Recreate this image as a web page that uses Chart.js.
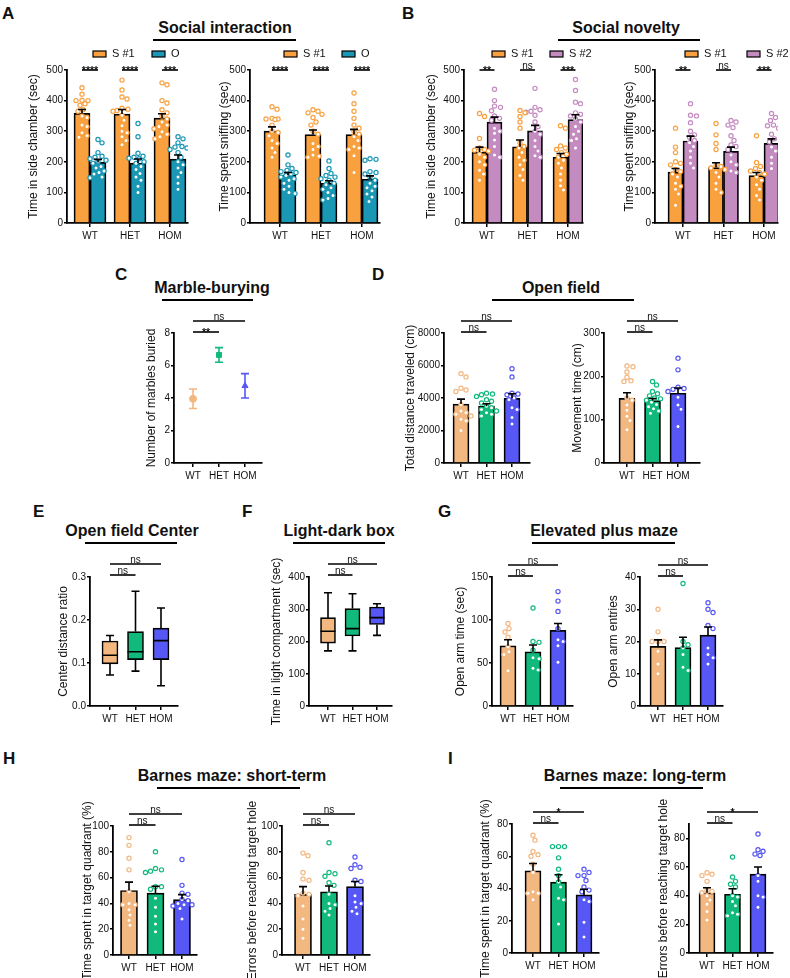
<!DOCTYPE html>
<html>
<head>
<meta charset="utf-8">
<script src="https://cdn.jsdelivr.net/npm/chart.js@4.4.1/dist/chart.umd.min.js"></script>
<style>
html, body { margin: 0; padding: 0; background: #fff; overflow: hidden; }
body { width: 790px; height: 978px; position: relative; font-family: "Liberation Sans", Arial, sans-serif; color: #111; }
.lbl { position: absolute; font-weight: bold; font-size: 17px; line-height: 17px; }
.ttl { position: absolute; font-weight: bold; font-size: 16px; line-height: 16px; transform: translateX(-50%); white-space: nowrap; }
.rule { position: absolute; height: 2px; background: #000; }
canvas { position: absolute; }
</style>
</head>
<body>
<div class="lbl" style="left:2px;top:5px">A</div>
<div class="lbl" style="left:402px;top:5px">B</div>
<div class="lbl" style="left:115px;top:266px">C</div>
<div class="lbl" style="left:372px;top:266px">D</div>
<div class="lbl" style="left:33px;top:503px">E</div>
<div class="lbl" style="left:242px;top:503px">F</div>
<div class="lbl" style="left:438px;top:503px">G</div>
<div class="lbl" style="left:3px;top:750px">H</div>
<div class="lbl" style="left:448px;top:750px">I</div>

<div class="ttl" style="left:225px;top:20px">Social interaction</div>
<div class="ttl" style="left:626px;top:20px">Social novelty</div>
<div class="ttl" style="left:212px;top:280px">Marble-burying</div>
<div class="ttl" style="left:561px;top:280px">Open field</div>
<div class="ttl" style="left:132px;top:523px">Open field Center</div>
<div class="ttl" style="left:339px;top:523px">Light-dark box</div>
<div class="ttl" style="left:604px;top:523px">Elevated plus maze</div>
<div class="ttl" style="left:232px;top:768px">Barnes maze: short-term</div>
<div class="ttl" style="left:635px;top:768px">Barnes maze: long-term</div>

<div class="rule" style="left:153px;width:143px;top:39px"></div>
<div class="rule" style="left:558px;width:142px;top:39px"></div>
<div class="rule" style="left:162px;width:91px;top:299px"></div>
<div class="rule" style="left:492px;width:142px;top:299px"></div>
<div class="rule" style="left:85px;width:92px;top:542px"></div>
<div class="rule" style="left:293px;width:92px;top:542px"></div>
<div class="rule" style="left:532px;width:143px;top:542px"></div>
<div class="rule" style="left:157px;width:143px;top:787px"></div>
<div class="rule" style="left:560px;width:143px;top:787px"></div>

<script>
const groups = ['WT', 'HET', 'HOM'];

// A: social interaction
const siChamberS1Mean = [358, 356, 343];
const siChamberS1Sem = [13, 15, 14];
const siChamberS1Pts = [
    [442, 421, 401, 400, 400, 390, 385, 370, 365, 350, 345, 320, 315, 295, 285, 280],
    [467, 435, 412, 405, 375, 372, 368, 365, 352, 336, 318, 300, 295, 282, 270, 256],
    [458, 452, 400, 392, 370, 360, 350, 340, 330, 320, 315, 308, 298, 290, 282, 275]
];
const siChamberOMean = [198, 196, 209];
const siChamberOSem = [10, 13, 13];
const siChamberOPts = [
    [273, 262, 230, 218, 215, 210, 205, 200, 195, 185, 180, 170, 165, 160, 150, 148],
    [325, 282, 228, 218, 215, 212, 210, 200, 195, 185, 175, 162, 150, 140, 120, 100],
    [282, 275, 262, 250, 248, 245, 240, 230, 215, 200, 190, 180, 165, 150, 130, 110]
];
const siSniffS1Mean = [300, 289, 289];
const siSniffS1Sem = [14, 15, 17];
const siSniffS1Pts = [
    [380, 372, 342, 340, 340, 338, 320, 300, 296, 285, 270, 260, 245, 230, 215],
    [370, 365, 360, 355, 345, 330, 320, 300, 290, 260, 250, 240, 222, 218, 215],
    [425, 390, 365, 342, 320, 310, 300, 290, 282, 270, 250, 245, 240, 220, 165]
];
const siSniffOMean = [157, 130, 143];
const siSniffOSem = [8, 8, 11];
const siSniffOPts = [
    [222, 190, 178, 172, 168, 165, 160, 155, 150, 145, 140, 130, 120, 110, 100, 96],
    [203, 178, 162, 155, 150, 145, 140, 130, 125, 115, 110, 100, 90, 80, 75],
    [210, 208, 205, 168, 165, 160, 150, 140, 130, 120, 115, 105, 95, 85, 70]
];

// B: social novelty
const snChamberS1Mean = [232, 249, 215];
const snChamberS1Sem = [16, 22, 12];
const snChamberS1Pts = [
    [358, 348, 276, 245, 240, 238, 235, 225, 215, 200, 190, 172, 160, 140],
    [368, 360, 348, 330, 310, 262, 250, 245, 230, 215, 205, 190, 175, 155, 140],
    [318, 310, 252, 245, 240, 230, 225, 215, 205, 195, 180, 160, 140, 122, 108]
];
const snChamberS2Mean = [330, 301, 338];
const snChamberS2Sem = [16, 18, 16];
const snChamberS2Pts = [
    [437, 400, 382, 378, 367, 350, 342, 336, 310, 300, 293, 271, 250, 222, 215],
    [440, 378, 370, 365, 362, 352, 330, 315, 300, 290, 270, 250, 235, 220, 215],
    [469, 433, 395, 390, 360, 355, 350, 340, 330, 315, 300, 290, 275, 270, 245]
];
const snSniffS1Mean = [166, 181, 155];
const snSniffS1Sem = [12, 16, 10];
const snSniffS1Pts = [
    [310, 248, 230, 200, 195, 190, 175, 168, 160, 150, 130, 120, 110, 95, 58],
    [325, 288, 260, 240, 190, 185, 180, 175, 165, 150, 130, 110, 100],
    [285, 198, 185, 178, 170, 165, 160, 150, 140, 125, 110, 90, 75]
];
const snSniffS2Mean = [268, 234, 260];
const snSniffS2Sem = [16, 14, 15];
const snSniffS2Pts = [
    [390, 352, 350, 328, 300, 288, 280, 270, 262, 250, 235, 215, 195, 180],
    [335, 330, 320, 312, 285, 270, 255, 250, 240, 222, 200, 190, 170, 165],
    [358, 345, 335, 320, 318, 310, 290, 275, 265, 248, 235, 215, 195, 178]
];

// C: marble burying
const marbleMean = [3.95, 6.65, 4.75];
const marbleSem = [0.6, 0.45, 0.75];

// D: open field
const ofDistMean = [3630, 3500, 3980];
const ofDistSem = [300, 150, 280];
const ofDistPts = [
    [5500, 5300, 4600, 4500, 4400, 3600, 3200, 3100, 3000, 2900, 2700, 2600, 2000],
    [4300, 4250, 4200, 4100, 3900, 3800, 3700, 3500, 3400, 3300, 3200, 3100, 3000, 2900],
    [5800, 5300, 4300, 4250, 4200, 4000, 3900, 3400, 3300, 2800, 2400]
];
const ofMoveMean = [149, 144, 161];
const ofMoveSem = [13, 5, 12];
const ofMovePts = [
    [224, 222, 210, 198, 190, 188, 150, 145, 134, 122, 108, 98, 77],
    [188, 180, 165, 160, 155, 150, 148, 145, 140, 135, 130, 125, 120, 115],
    [242, 215, 175, 172, 170, 165, 152, 134, 124, 84]
];

// E: open field center (box: min, q1, median, q3, max)
const centerMin = [0.072, 0.081, 0.047];
const centerQ1 = [0.098, 0.108, 0.108];
const centerMed = [0.118, 0.126, 0.152];
const centerQ3 = [0.151, 0.173, 0.181];
const centerMax = [0.164, 0.267, 0.228];

// F: light-dark box
const lightMin = [171, 171, 219];
const lightQ1 = [195, 217, 253];
const lightMed = [232, 240, 274];
const lightQ3 = [274, 302, 307];
const lightMax = [351, 348, 317];

// G: elevated plus maze
const epmTimeMean = [70, 63, 88];
const epmTimeSem = [7, 8, 8];
const epmTimePts = [
    [96, 90, 86, 80, 69, 63, 60, 41],
    [114, 75, 74, 65, 56, 55, 44, 42],
    [133, 122, 110, 90, 77, 75, 70, 51]
];
const epmEntryMean = [18.5, 18.1, 22];
const epmEntrySem = [2, 3.2, 2.5];
const epmEntryPts = [
    [30, 23, 20, 20, 20, 17, 13, 10],
    [38, 20, 19, 18, 16, 12, 11],
    [32, 30, 29, 25, 24, 18, 16, 15, 13]
];

// H: Barnes maze short-term
const bmsTimeMean = [50, 48, 43];
const bmsTimeSem = [6.5, 5.3, 3.8];
const bmsTimePts = [
    [91, 85, 75, 66, 49, 40, 39, 39, 35, 31, 27, 23],
    [80, 67, 66, 65, 64, 53, 53, 51, 44, 37, 30, 24, 18],
    [74, 54, 48, 47, 43, 42, 40, 39, 39, 38, 36, 28]
];
const bmsErrMean = [47, 49, 53];
const bmsErrSem = [6, 4.5, 4];
const bmsErrPts = [
    [79, 77, 64, 59, 58, 48, 47, 46, 38, 28, 20, 13],
    [87, 64, 63, 61, 56, 54, 47, 40, 39, 36, 34, 31],
    [76, 70, 68, 67, 58, 57, 46, 41, 40, 37, 34, 32]
];

// I: Barnes maze long-term
const bmlTimeMean = [51, 44, 36];
const bmlTimeSem = [4.5, 4.5, 3.5];
const bmlTimePts = [
    [73, 70, 63, 61, 60, 55, 50, 38, 37, 37, 33],
    [66, 66, 66, 59, 52, 48, 44, 41, 34, 33, 18],
    [52, 50, 48, 48, 45, 41, 39, 38, 33, 32, 19, 10]
];
const bmlErrMean = [42, 41, 55];
const bmlErrSem = [3.5, 3.8, 5];
const bmlErrPts = [
    [56, 55, 54, 50, 44, 43, 42, 40, 37, 34, 29, 23],
    [67, 53, 50, 48, 46, 40, 39, 36, 33, 28, 27, 26],
    [83, 72, 71, 69, 68, 54, 50, 40, 39, 32]
];

const COL = { s1: '#F9A03F', o: '#1A97B4', s2: '#C48BC1', wt: '#F3B780', het: '#12B97C', hom: '#5757F5' };
const grpCols = [COL.wt, COL.het, COL.hom];

Chart.defaults.font.family = '"Liberation Sans", Arial, sans-serif';
Chart.defaults.font.size = 10;
Chart.defaults.color = '#111';

const PAD_T = 46, PAD_R = 14, PAD_B = 26;
const TITLE_PX = 12;

// error bars, box whiskers, significance lines, legends
const extrasPlugin = {
    id: 'extras',
    afterDatasetsDraw(chart) {
        const { ctx, chartArea: a, scales: { x, y } } = chart;
        const ex = chart.canvas.extras || {};
        ctx.save();
        chart.data.datasets.forEach((ds, di) => {
            const meta = chart.getDatasetMeta(di);
            if (ds.sem) {
                meta.data.forEach((el, i) => {
                    const m = ds.data[i].y;
                    const top = y.getPixelForValue(m + ds.sem[i]);
                    const bot = ds.both ? y.getPixelForValue(m - ds.sem[i]) : el.y;
                    ctx.strokeStyle = ds.both ? ds.pointBorderColor : '#000';
                    ctx.lineWidth = 1.6;
                    ctx.beginPath();
                    ctx.moveTo(el.x, bot); ctx.lineTo(el.x, top);
                    ctx.moveTo(el.x - 4, top); ctx.lineTo(el.x + 4, top);
                    if (ds.both) { ctx.moveTo(el.x - 4, bot); ctx.lineTo(el.x + 4, bot); }
                    ctx.stroke();
                });
            }
            if (ds.box) {
                meta.data.forEach((el, i) => {
                    const [mn, md, mx] = ds.box[i];
                    const [q1, q3] = ds.data[i].y;
                    const hw = el.width / 2;
                    ctx.strokeStyle = '#000';
                    ctx.lineWidth = 1.6;
                    ctx.beginPath();
                    ctx.moveTo(el.x, y.getPixelForValue(q3)); ctx.lineTo(el.x, y.getPixelForValue(mx));
                    ctx.moveTo(el.x - 4, y.getPixelForValue(mx)); ctx.lineTo(el.x + 4, y.getPixelForValue(mx));
                    ctx.moveTo(el.x, y.getPixelForValue(q1)); ctx.lineTo(el.x, y.getPixelForValue(mn));
                    ctx.moveTo(el.x - 4, y.getPixelForValue(mn)); ctx.lineTo(el.x + 4, y.getPixelForValue(mn));
                    ctx.moveTo(el.x - hw, y.getPixelForValue(md)); ctx.lineTo(el.x + hw, y.getPixelForValue(md));
                    ctx.stroke();
                });
            }
        });
        (ex.sig || []).forEach(sg => {
            const yy = a.top - sg.dy;
            const x1 = x.getPixelForValue(sg.from), x2 = x.getPixelForValue(sg.to);
            ctx.strokeStyle = '#000';
            ctx.lineWidth = 1.6;
            ctx.beginPath();
            ctx.moveTo(x1, yy); ctx.lineTo(x2, yy);
            ctx.stroke();
            ctx.fillStyle = '#111';
            ctx.textAlign = 'center';
            ctx.textBaseline = 'alphabetic';
            const star = sg.text.indexOf('*') >= 0;
            ctx.font = (star ? 'bold 10.5px' : '10px') + ' "Liberation Sans", Arial, sans-serif';
            ctx.fillText(sg.text, (x1 + x2) / 2, star ? yy + 4 : yy - 1.5);
        });
        if (ex.legend) {
            ex.legend.items.forEach(it => {
                const bx = a.left + it.dx, by = a.top + ex.legend.dy;
                ctx.fillStyle = it.color;
                ctx.fillRect(bx, by - 3, 13, 6);
                ctx.strokeStyle = '#000';
                ctx.lineWidth = 1.2;
                ctx.strokeRect(bx, by - 3, 13, 6);
                ctx.fillStyle = '#111';
                ctx.font = '11px "Liberation Sans", Arial, sans-serif';
                ctx.textAlign = 'left';
                ctx.textBaseline = 'middle';
                ctx.fillText(it.label, bx + 19, by);
            });
        }
        ctx.restore();
    }
};
Chart.register(extrasPlugin);

// spreads points of equal value side by side, like a beeswarm
function swarm(vals, yPx, d, half) {
    const placed = [];
    return vals.map(v => {
        const yy = v * yPx;
        let best = 0, bestGap = -Infinity;
        for (let k = 0; k <= 2 * half; k++) {
            const dx = (k % 2 ? 1 : -1) * Math.ceil(k / 2);
            let gap = Infinity;
            placed.forEach(p => { gap = Math.min(gap, Math.hypot(p[0] - dx, p[1] - yy)); });
            if (gap >= d) { best = dx; bestGap = gap; break; }
            if (gap > bestGap) { bestGap = gap; best = dx; }
        }
        placed.push([best, yy]);
        return best;
    });
}

function addCanvas(x, y, w, h) {
    const c = document.createElement('canvas');
    c.width = w; c.height = h;
    c.style.left = x + 'px'; c.style.top = y + 'px';
    c.style.width = w + 'px'; c.style.height = h + 'px';
    document.body.appendChild(c);
    return c;
}

function axisGrid(len) {
    return { display: true, offset: false, drawOnChartArea: false, drawTicks: true, tickLength: len, color: '#000', lineWidth: 1.5 };
}

function makeChart(p, type, datasets, extras) {
    const { l, t, r, b } = p.area;
    const L = Math.round(p.tOff + TITLE_PX * 0.6);
    const cv = addCanvas(l - L, t - PAD_T, r - l + L + PAD_R, b - t + PAD_T + PAD_B);
    cv.extras = extras;
    const xMin = -(p.c0 - l) / p.s;
    return new Chart(cv, {
        type,
        data: { datasets },
        options: {
            responsive: false,
            animation: false,
            layout: { padding: { top: PAD_T, right: PAD_R, left: 0, bottom: 0 } },
            scales: {
                x: {
                    type: 'linear', min: xMin, max: xMin + (r - l) / p.s, offset: false,
                    afterBuildTicks: s => { s.ticks = groups.map((g, i) => ({ value: i })); },
                    afterFit: s => { s.height = PAD_B; },
                    ticks: { callback: v => groups[v], padding: 3, autoSkip: false, maxRotation: 0, minRotation: 0 },
                    grid: axisGrid(4),
                    border: { display: true, color: '#000', width: 1.8 }
                },
                y: {
                    type: 'linear', min: 0, max: p.yMax,
                    afterBuildTicks: s => { s.ticks = p.yTicks.map(v => ({ value: v })); },
                    afterFit: s => { s.width = L; },
                    ticks: { padding: 1, callback: p.fmt || (v => String(v)) },
                    title: { display: true, text: p.yLabel, padding: 0, font: { size: TITLE_PX } },
                    grid: axisGrid(3),
                    border: { display: true, color: '#000', width: 1.8 }
                }
            },
            plugins: { legend: { display: false }, tooltip: { enabled: false } }
        }
    });
}

function barPanel(p, series, sig, legend) {
    const grouped = series.length > 1;
    const yPx = (p.area.b - p.area.t) / p.yMax;
    const datasets = [];
    series.forEach((se, k) => {
        const shift = grouped ? (k - 0.5) * p.barW : 0;
        datasets.push({
            type: 'bar', order: 1,
            data: se.mean.map((m, i) => ({ x: i, y: m })), sem: se.sem,
            backgroundColor: se.colors, borderColor: '#000', borderWidth: 1.7, barThickness: p.barW
        });
        se.pts.forEach((vals, i) => {
            const offs = swarm(vals, yPx, 5.2, p.half);
            datasets.push({
                type: 'scatter', order: 0,
                data: vals.map((v, j) => ({ x: i + (shift + offs[j]) / p.s, y: v })),
                pointRadius: 2.1, pointBorderWidth: 1.2,
                pointBackgroundColor: '#fff', pointBorderColor: se.colors[i]
            });
        });
    });
    let sigLines;
    if (grouped) {
        sigLines = sig.map((text, i) => ({ from: i - p.barW / 2 / p.s, to: i + p.barW / 2 / p.s, dy: 0, text }));
    } else {
        sigLines = [
            { from: 0, to: 1, dy: 1, text: sig[0] },
            { from: 0, to: 2, dy: 12, text: sig[1] }
        ];
    }
    return makeChart(p, 'bar', datasets, { sig: sigLines, legend });
}

function boxPanel(p, mins, q1s, meds, q3s, maxs) {
    const datasets = [{
        type: 'bar',
        data: q1s.map((q, i) => ({ x: i, y: [q, q3s[i]] })),
        box: mins.map((m, i) => [m, meds[i], maxs[i]]),
        backgroundColor: grpCols, borderColor: '#000', borderWidth: 1.6,
        borderSkipped: false, barThickness: p.barW
    }];
    return makeChart(p, 'bar', datasets, {
        sig: [{ from: 0, to: 1, dy: 2, text: 'ns' }, { from: 0, to: 2, dy: 13, text: 'ns' }]
    });
}

const single = (mean, sem, pts) => [{ mean, sem, pts, colors: grpCols }];
const three = c => [c, c, c];
const t500 = [0, 100, 200, 300, 400, 500];
const t100 = [0, 20, 40, 60, 80, 100];

// A
barPanel({ area: { l: 67, t: 70, r: 188, b: 223 }, tOff: 34, c0: 90, s: 40, yMax: 500, yTicks: t500,
    yLabel: 'Time in side chamber (sec)', barW: 16, half: 9 },
    [{ mean: siChamberS1Mean, sem: siChamberS1Sem, pts: siChamberS1Pts, colors: three(COL.s1) },
     { mean: siChamberOMean, sem: siChamberOSem, pts: siChamberOPts, colors: three(COL.o) }],
    ['****', '****', '***'],
    { dy: -16, items: [{ dx: 26, label: 'S #1', color: COL.s1 }, { dx: 85, label: 'O', color: COL.o }] });
barPanel({ area: { l: 250, t: 70, r: 380, b: 223 }, tOff: 26, c0: 280, s: 41, yMax: 500, yTicks: t500,
    yLabel: 'Time spent sniffing (sec)', barW: 16, half: 9 },
    [{ mean: siSniffS1Mean, sem: siSniffS1Sem, pts: siSniffS1Pts, colors: three(COL.s1) },
     { mean: siSniffOMean, sem: siSniffOSem, pts: siSniffOPts, colors: three(COL.o) }],
    ['****', '****', '****'],
    { dy: -16, items: [{ dx: 34, label: 'S #1', color: COL.s1 }, { dx: 92, label: 'O', color: COL.o }] });

// B
barPanel({ area: { l: 464, t: 70, r: 583, b: 223 }, tOff: 33, c0: 487, s: 40.5, yMax: 500, yTicks: t500,
    yLabel: 'Time in side chamber (sec)', barW: 15, half: 9 },
    [{ mean: snChamberS1Mean, sem: snChamberS1Sem, pts: snChamberS1Pts, colors: three(COL.s1) },
     { mean: snChamberS2Mean, sem: snChamberS2Sem, pts: snChamberS2Pts, colors: three(COL.s2) }],
    ['**', 'ns', '***'],
    { dy: -16, items: [{ dx: 28, label: 'S #1', color: COL.s1 }, { dx: 86, label: 'S #2', color: COL.s2 }] });
barPanel({ area: { l: 655, t: 70, r: 778, b: 223 }, tOff: 26, c0: 683, s: 40.5, yMax: 500, yTicks: t500,
    yLabel: 'Time spent sniffing (sec)', barW: 15, half: 9 },
    [{ mean: snSniffS1Mean, sem: snSniffS1Sem, pts: snSniffS1Pts, colors: three(COL.s1) },
     { mean: snSniffS2Mean, sem: snSniffS2Sem, pts: snSniffS2Pts, colors: three(COL.s2) }],
    ['**', 'ns', '***'],
    { dy: -16, items: [{ dx: 30, label: 'S #1', color: COL.s1 }, { dx: 92, label: 'S #2', color: COL.s2 }] });

// C
const markerStyles = ['circle', 'rect', 'triangle'];
makeChart({ area: { l: 174, t: 333, r: 262, b: 463 }, tOff: 23, c0: 193, s: 26, yMax: 8, yTicks: [0, 2, 4, 6, 8],
    yLabel: 'Number of marbles buried' }, 'scatter',
    marbleMean.map((m, i) => ({
        type: 'scatter', data: [{ x: i, y: m }], sem: [marbleSem[i]], both: true,
        pointStyle: markerStyles[i], pointRadius: 3.5, pointBorderWidth: 1,
        pointBackgroundColor: grpCols[i], pointBorderColor: grpCols[i]
    })),
    { sig: [{ from: 0, to: 1, dy: 1, text: '**' }, { from: 0, to: 2, dy: 12, text: 'ns' }] });

// D
barPanel({ area: { l: 444, t: 333, r: 530, b: 463 }, tOff: 34, c0: 461, s: 25.5, yMax: 8000,
    yTicks: [0, 2000, 4000, 6000, 8000], yLabel: 'Total distance traveled (cm)', barW: 16, half: 10 },
    single(ofDistMean, ofDistSem, ofDistPts), ['ns', 'ns']);
barPanel({ area: { l: 604, t: 333, r: 700, b: 463 }, tOff: 27, c0: 627, s: 25.5, yMax: 300,
    yTicks: [0, 100, 200, 300], yLabel: 'Movement time (cm)', barW: 16, half: 10 },
    single(ofMoveMean, ofMoveSem, ofMovePts), ['ns', 'ns']);

// E, F
boxPanel({ area: { l: 90, t: 577, r: 178, b: 706 }, tOff: 27, c0: 110, s: 25.5, yMax: 0.3,
    yTicks: [0, 0.1, 0.2, 0.3], fmt: v => v.toFixed(1), yLabel: 'Center distance ratio', barW: 16 },
    centerMin, centerQ1, centerMed, centerQ3, centerMax);
boxPanel({ area: { l: 309, t: 577, r: 392, b: 706 }, tOff: 33, c0: 328, s: 24.5, yMax: 400,
    yTicks: [0, 100, 200, 300, 400], yLabel: 'Time in light compartment (sec)', barW: 15 },
    lightMin, lightQ1, lightMed, lightQ3, lightMax);

// G
barPanel({ area: { l: 492, t: 577, r: 573, b: 706 }, tOff: 32, c0: 508, s: 25, yMax: 150,
    yTicks: [0, 50, 100, 150], yLabel: 'Open arm time (sec)', barW: 16, half: 10 },
    single(epmTimeMean, epmTimeSem, epmTimePts), ['ns', 'ns']);
barPanel({ area: { l: 640, t: 577, r: 723, b: 706 }, tOff: 27, c0: 658, s: 25, yMax: 40,
    yTicks: [0, 10, 20, 30, 40], yLabel: 'Open arm entries', barW: 16, half: 10 },
    single(epmEntryMean, epmEntrySem, epmEntryPts), ['ns', 'ns']);

// H
barPanel({ area: { l: 113, t: 826, r: 197, b: 955 }, tOff: 26, c0: 129, s: 26.5, yMax: 100,
    yTicks: t100, yLabel: 'Time spent in target quadrant (%)', barW: 17, half: 10 },
    single(bmsTimeMean, bmsTimeSem, bmsTimePts), ['ns', 'ns']);
barPanel({ area: { l: 282, t: 826, r: 370, b: 955 }, tOff: 30, c0: 303, s: 26, yMax: 100,
    yTicks: t100, yLabel: 'Errors before reaching target hole', barW: 17, half: 10 },
    single(bmsErrMean, bmsErrSem, bmsErrPts), ['ns', 'ns']);

// I
barPanel({ area: { l: 512, t: 824, r: 599, b: 953 }, tOff: 27, c0: 533, s: 25.5, yMax: 80,
    yTicks: [0, 20, 40, 60, 80], yLabel: 'Time spent in target quadrant (%)', barW: 16, half: 10 },
    single(bmlTimeMean, bmlTimeSem, bmlTimePts), ['ns', '*']);
barPanel({ area: { l: 689, t: 824, r: 773, b: 953 }, tOff: 26, c0: 707, s: 25.5, yMax: 90,
    yTicks: [0, 20, 40, 60, 80], yLabel: 'Errors before reaching target hole', barW: 16, half: 10 },
    single(bmlErrMean, bmlErrSem, bmlErrPts), ['ns', '*']);
</script>
</body>
</html>
